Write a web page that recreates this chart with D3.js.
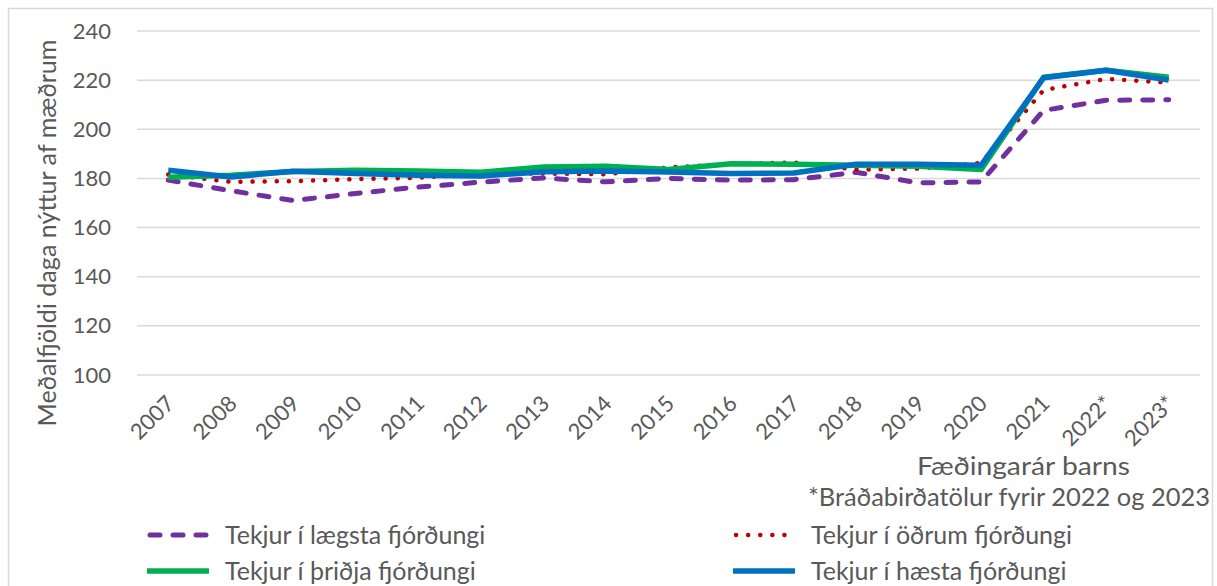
<!DOCTYPE html>
<html>
<head>
<meta charset="utf-8">
<script src="https://cdn.jsdelivr.net/npm/d3@7"></script>
<style>
    body { margin: 0; background: #fff; }
    svg { display: block; font-family: Lato, "Open Sans", sans-serif; }
</style>
</head>
<body>
<div id="chart"></div>
<script>
// data
var years = ["2007", "2008", "2009", "2010", "2011", "2012", "2013", "2014", "2015",
    "2016", "2017", "2018", "2019", "2020", "2021", "2022*", "2023*"];

var lowest = [179.3, 175, 171, 173.9, 176.5, 178.5, 180.2, 178.6, 180, 179.3, 179.5, 182.5, 178.2, 178.6, 207.7, 211.8, 212];
var second = [181.6, 178.6, 178.9, 179.7, 180.3, 181.8, 182, 181.7, 184.5, 185.8, 186.5, 183.6, 184, 186.3, 216, 220.5, 219];
var third = [180.5, 181.3, 182.8, 183.3, 183, 182.5, 184.7, 185, 183.6, 186, 185.8, 185.4, 185, 183.6, 221.2, 224, 221.2];
var highest = [183.3, 180.6, 182.9, 182, 181.3, 181, 182.7, 183, 182.6, 182, 182.2, 185.8, 185.8, 185.4, 221, 224, 220];

var seriesNames = [
    "Tekjur í lægsta fjórðungi",
    "Tekjur í öðrum fjórðungi",
    "Tekjur í þriðja fjórðungi",
    "Tekjur í hæsta fjórðungi"
];

var yTicks = [100, 120, 140, 160, 180, 200, 220, 240];

var yTitle = "Meðalfjöldi daga nýttur af mæðrum";
var xTitle = "Fæðingarár barns";
var footnote = "*Bráðabirðatölur fyrir 2022 og 2023";

// options
var width = 1217;
var height = 586;
var plot = { left: 137, right: 1200, top: 31, bottom: 375 };
var textColor = "#595959";

var styles = [
    { color: "#7030A0", width: 5, dash: "10 13", cap: "round" },
    { color: "#C00000", width: 4.5, dash: "0.1 12", cap: "round" },
    { color: "#00B050", width: 5.5, dash: null, cap: "butt" },
    { color: "#0070C0", width: 5.5, dash: null, cap: "butt" }
];

var series = [lowest, second, third, highest].map((values, i) => ({
    name: seriesNames[i],
    values: values,
    style: styles[i]
}));

var svg = d3.select("#chart").append("svg")
    .attr("width", width)
    .attr("height", height)
    .attr("viewBox", [0, 0, width, height]);

// outer frame
svg.append("rect")
    .attr("x", 8.5)
    .attr("y", 8.5)
    .attr("width", 1204)
    .attr("height", height + 10)
    .attr("fill", "none")
    .attr("stroke", "#d9d9d9")
    .attr("stroke-width", 1.5);

// scales
var xScale = d3.scalePoint()
    .domain(years)
    .range([plot.left, plot.right])
    .padding(0.5);

var yScale = d3.scaleLinear()
    .domain([100, 240])
    .range([plot.bottom, plot.top]);

// gridlines
svg.append("g")
    .selectAll("line")
    .data(yTicks)
    .join("line")
    .attr("x1", plot.left)
    .attr("x2", plot.right)
    .attr("y1", d => yScale(d))
    .attr("y2", d => yScale(d))
    .attr("stroke", "#d9d9d9")
    .attr("stroke-width", 1.5);

// y axis labels
var yAxis = svg.append("g")
    .attr("transform", `translate(${plot.left - 26},0)`)
    .call(d3.axisLeft(yScale).tickValues(yTicks).tickSize(0).tickPadding(0));
yAxis.select(".domain").remove();
yAxis.selectAll("text")
    .attr("font-family", "Lato, sans-serif")
    .attr("font-size", 22)
    .attr("fill", textColor);

// x axis labels (rotated)
var xAxis = svg.append("g")
    .attr("transform", `translate(0,${plot.bottom + 19})`)
    .call(d3.axisBottom(xScale).tickSize(0).tickPadding(0));
xAxis.select(".domain").remove();
xAxis.selectAll("text")
    .attr("font-family", "Lato, sans-serif")
    .attr("font-size", 22)
    .attr("fill", textColor)
    .attr("text-anchor", "end")
    .attr("dy", "0.7em")
    .attr("transform", "translate(-4,0) rotate(-45)");

// axis titles
svg.append("text")
    .attr("transform", `translate(56,233) rotate(-90)`)
    .attr("text-anchor", "middle")
    .attr("font-size", 25)
    .attr("textLength", 387)
    .attr("lengthAdjust", "spacingAndGlyphs")
    .attr("fill", textColor)
    .text(yTitle);

svg.append("text")
    .attr("x", 917)
    .attr("y", 475)
    .attr("font-size", 25)
    .attr("textLength", 213)
    .attr("lengthAdjust", "spacingAndGlyphs")
    .attr("fill", textColor)
    .text(xTitle);

svg.append("text")
    .attr("x", 808)
    .attr("y", 506)
    .attr("font-size", 25)
    .attr("textLength", 402)
    .attr("lengthAdjust", "spacingAndGlyphs")
    .attr("fill", textColor)
    .text(footnote);

// lines
var line = d3.line()
    .x((d, i) => xScale(years[i]))
    .y(d => yScale(d));

svg.append("g")
    .selectAll("path")
    .data(series)
    .join("path")
    .attr("d", d => line(d.values))
    .attr("fill", "none")
    .attr("stroke", d => d.style.color)
    .attr("stroke-width", d => d.style.width)
    .attr("stroke-dasharray", d => d.style.dash)
    .attr("stroke-linecap", d => d.style.cap)
    .attr("stroke-linejoin", "round");

// legend
var legendPos = [
    { x: 147, y: 535 },
    { x: 733, y: 535 },
    { x: 147, y: 571 },
    { x: 733, y: 571 }
];

var legend = svg.append("g")
    .selectAll("g")
    .data(series)
    .join("g")
    .attr("transform", (d, i) => `translate(${legendPos[i].x},${legendPos[i].y})`);

legend.append("line")
    .attr("x1", d => d.style.cap == "round" ? 3 : 0)
    .attr("x2", d => d.style.cap == "round" ? 60 : 62)
    .attr("stroke", d => d.style.color)
    .attr("stroke-width", d => d.style.width)
    .attr("stroke-dasharray", d => d.style.dash)
    .attr("stroke-linecap", d => d.style.cap);

legend.append("text")
    .attr("x", 78)
    .attr("dy", "0.35em")
    .attr("font-size", 25)
    .attr("fill", textColor)
    .text(d => d.name);
</script>
</body>
</html>
